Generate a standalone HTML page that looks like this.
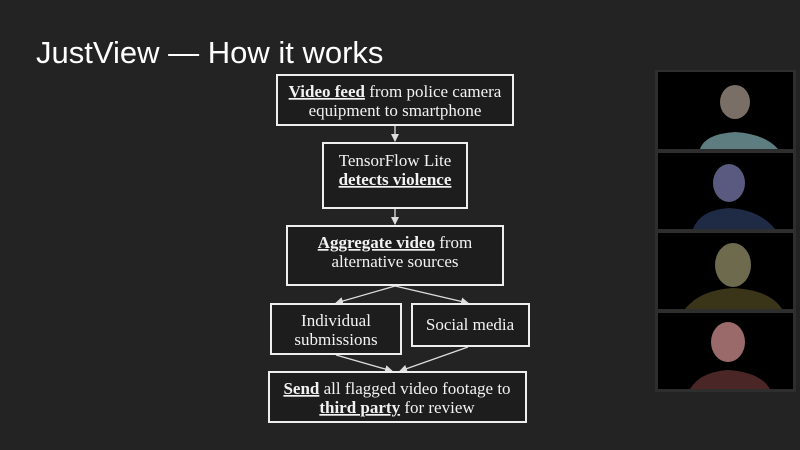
<!DOCTYPE html>
<html><head><meta charset="utf-8"><style>
html,body{margin:0;padding:0;background:#232323;}
svg{display:block}
.s{font-family:"Liberation Serif",serif;font-size:17px;fill:#f2f2f2;text-anchor:middle}
.b{font-weight:bold;text-decoration:underline}
rect.n{fill:#1d1d1d;stroke:#eee;stroke-width:2}
line{stroke:#ddd;stroke-width:1.3}
</style></head><body>
<svg width="800" height="450" viewBox="0 0 800 450">
<rect width="800" height="450" fill="#232323"/>
<text x="36" y="63" font-family="Liberation Sans,sans-serif" font-size="31" fill="#fff">JustView — How it works</text>
<defs><marker id="a" markerWidth="8" markerHeight="8" refX="7" refY="4" orient="auto" markerUnits="userSpaceOnUse"><path d="M0,0 L8,4 L0,8 z" fill="#ddd"/></marker></defs>
<line x1="395" y1="126" x2="395" y2="141" marker-end="url(#a)"/>
<line x1="395" y1="209" x2="395" y2="224" marker-end="url(#a)"/>
<line x1="395" y1="286" x2="336" y2="303" marker-end="url(#a)"/>
<line x1="395" y1="286" x2="468" y2="303" marker-end="url(#a)"/>
<line x1="336" y1="355" x2="392" y2="371" marker-end="url(#a)"/>
<line x1="468" y1="347" x2="400" y2="371" marker-end="url(#a)"/>
<rect class="n" x="277" y="75" width="236" height="50"/>
<text class="s" x="395" y="97"><tspan class="b">Video feed</tspan> from police camera</text>
<text class="s" x="395" y="116">equipment to smartphone</text>
<rect class="n" x="323" y="143" width="144" height="65"/>
<text class="s" x="395" y="166">TensorFlow Lite</text>
<text class="s b" x="395" y="185">detects violence</text>
<rect class="n" x="287" y="226" width="216" height="59"/>
<text class="s" x="395" y="248"><tspan class="b">Aggregate video</tspan> from</text>
<text class="s" x="395" y="267">alternative sources</text>
<rect class="n" x="271" y="304" width="130" height="50"/>
<text class="s" x="336" y="326">Individual</text>
<text class="s" x="336" y="345">submissions</text>
<rect class="n" x="412" y="304" width="117" height="42"/>
<text class="s" x="470" y="330">Social media</text>
<rect class="n" x="269" y="372" width="257" height="50"/>
<text class="s" x="397" y="394"><tspan class="b">Send</tspan> all flagged video footage to</text>
<text class="s" x="397" y="413"><tspan class="b">third party</tspan> for review</text>
<rect x="655" y="70" width="141" height="322" fill="#2e2e2e"/>
<g>
<rect x="658" y="72" width="135" height="77" fill="#000"/>
<ellipse cx="735" cy="102" rx="15" ry="17" fill="#7a6f66"/>
<path d="M700,149 Q705,134 735,132 Q765,134 778,149 z" fill="#5d7d80"/>
<rect x="658" y="153" width="135" height="76" fill="#000"/>
<ellipse cx="729" cy="183" rx="16" ry="19" fill="#5a5a80"/>
<path d="M693,229 Q700,210 729,208 Q760,210 775,229 z" fill="#1f2a45"/>
<rect x="658" y="233" width="135" height="76" fill="#000"/>
<ellipse cx="733" cy="265" rx="18" ry="22" fill="#6e6a4e"/>
<path d="M685,309 Q700,290 733,288 Q770,290 782,309 z" fill="#3a3418"/>
<rect x="658" y="313" width="135" height="76" fill="#000"/>
<ellipse cx="728" cy="342" rx="17" ry="20" fill="#9a6a6a"/>
<path d="M690,389 Q700,372 728,370 Q760,372 770,389 z" fill="#4a2626"/>
</g>
</svg>
</body></html>
